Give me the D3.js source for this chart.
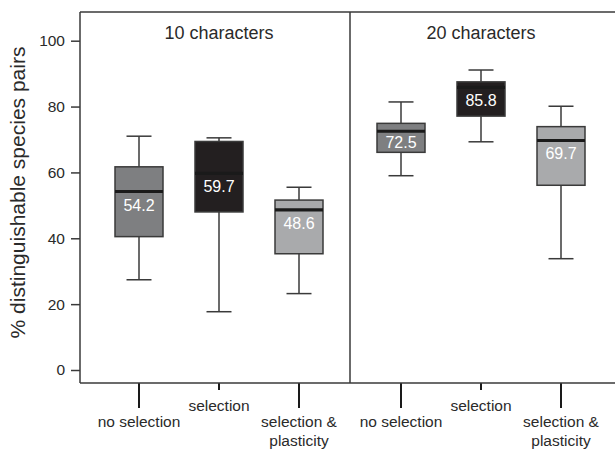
<!DOCTYPE html>
<html>
<head>
<meta charset="utf-8">
<script src="https://cdn.jsdelivr.net/npm/d3@7"></script>
<style>
  html, body { margin: 0; padding: 0; background: #fff; }
  svg { display: block; font-family: "Liberation Sans", Arial, sans-serif; }
</style>
</head>
<body>
<svg id="chart" width="615" height="450"></svg>
<script>
// ---- data ----
const panels = ["10 characters", "20 characters"];
const categories = ["no selection", "selection", "selection & plasticity"];
const categoryLines = [["no selection"], ["selection"], ["selection &", "plasticity"]];
// per panel, per category: [low whisker, Q1, median, Q3, high whisker]
const lowWhisker = [[27.4, 17.7, 23.2], [59.0, 69.3, 33.8]];
const q1Values   = [[40.5, 48.0, 35.3], [66.1, 77.1, 56.1]];
const medians    = [[54.2, 59.7, 48.6], [72.5, 85.8, 69.7]];
const q3Values   = [[61.7, 69.4, 51.6], [74.9, 87.5, 73.9]];
const highWhisker= [[71.0, 70.5, 55.5], [81.4, 91.1, 80.1]];
const yTicks = [0, 20, 40, 60, 80, 100];
const yTitle = "% distinguishable species pairs";
const fills = ["#7e7f81", "#231f20", "#a9aaac"];

// ---- layout ----
const svg = d3.select("#chart");
const frame = { left: 80, top: 12, right: 640, bottom: 383, divider: 350 };

const y = d3.scaleLinear().domain([0, 100]).range([370, 40.7]);
const xPanel = [
  d3.scalePoint().domain(categories).range([139, 299]),
  d3.scalePoint().domain(categories).range([401, 561])
];
const boxW = 48, capW = 25;
const stroke = "#3a3a3a";

// y axis
const yAxis = svg.append("g")
  .attr("transform", `translate(${frame.left},0)`)
  .call(d3.axisLeft(y).tickValues(yTicks).tickSize(9).tickPadding(6));
yAxis.select(".domain").remove();
yAxis.selectAll(".tick line").attr("stroke", stroke).attr("stroke-width", 1.5);
yAxis.selectAll(".tick text")
  .attr("fill", "#2a2a2a")
  .style("font-size", "15.5px")
  .style("font-family", "'Liberation Sans', Arial, sans-serif");

// y title
svg.append("text")
  .attr("transform", `translate(25,192.5) rotate(-90)`)
  .attr("text-anchor", "middle")
  .attr("fill", "#2a2a2a")
  .style("font-size", "21px")
  .text(yTitle);

// frame
const fg = svg.append("g").attr("stroke", stroke).attr("stroke-width", 1.5).attr("fill", "none");
fg.append("line").attr("x1", frame.left).attr("x2", frame.left).attr("y1", frame.top).attr("y2", frame.bottom);
fg.append("line").attr("x1", frame.left).attr("x2", frame.right).attr("y1", frame.top).attr("y2", frame.top);
fg.append("line").attr("x1", frame.divider).attr("x2", frame.divider).attr("y1", frame.top).attr("y2", frame.bottom);

panels.forEach((title, p) => {
  const x = xPanel[p];
  const g = svg.append("g");

  // panel title
  g.append("text")
    .attr("x", x(categories[1]))
    .attr("y", 39)
    .attr("text-anchor", "middle")
    .attr("fill", "#2a2a2a")
    .style("font-size", "18px")
    .text(title);

  categories.forEach((c, i) => {
    const cx = x(c);
    const lo = lowWhisker[p][i], q1 = q1Values[p][i], md = medians[p][i],
          q3 = q3Values[p][i], hi = highWhisker[p][i];
    // whiskers
    g.append("line").attr("x1", cx).attr("x2", cx).attr("y1", y(hi)).attr("y2", y(q3))
      .attr("stroke", stroke).attr("stroke-width", 1.5);
    g.append("line").attr("x1", cx).attr("x2", cx).attr("y1", y(q1)).attr("y2", y(lo))
      .attr("stroke", stroke).attr("stroke-width", 1.5);
    [hi, lo].forEach(v => {
      g.append("line").attr("x1", cx - capW / 2).attr("x2", cx + capW / 2)
        .attr("y1", y(v)).attr("y2", y(v))
        .attr("stroke", stroke).attr("stroke-width", 1.5);
    });
    // box
    g.append("rect")
      .attr("x", cx - boxW / 2).attr("width", boxW)
      .attr("y", y(q3)).attr("height", y(q1) - y(q3))
      .attr("fill", fills[i]).attr("stroke", stroke).attr("stroke-width", 1.5);
    // median
    g.append("line").attr("x1", cx - boxW / 2).attr("x2", cx + boxW / 2)
      .attr("y1", y(md)).attr("y2", y(md))
      .attr("stroke", "#1a1a1a").attr("stroke-width", 3.2);
    // value label
    const by = Math.min(y(md) + 19, y(q1) - 4);
    g.append("text")
      .attr("x", cx).attr("y", by)
      .attr("text-anchor", "middle")
      .attr("fill", "#ffffff")
      .style("font-size", "16px")
      .text(md.toFixed(1));

    // category tick
    const tickLen = i === 1 ? 7 : 25;
    g.append("line").attr("x1", cx).attr("x2", cx)
      .attr("y1", frame.bottom).attr("y2", frame.bottom + tickLen)
      .attr("stroke", "#1a1a1a").attr("stroke-width", 2);
    // category label
    const baseY = i === 1 ? 411 : 427;
    const t = g.append("text")
      .attr("text-anchor", "middle")
      .attr("fill", "#2a2a2a")
      .style("font-size", "15.5px");
    categoryLines[i].forEach((line, k) => {
      t.append("tspan").attr("x", cx).attr("y", baseY + k * 19).text(line);
    });
  });
});

// bottom axis line (drawn last, over ticks)
svg.append("line")
  .attr("x1", frame.left).attr("x2", frame.right)
  .attr("y1", frame.bottom).attr("y2", frame.bottom)
  .attr("stroke", stroke).attr("stroke-width", 1.5);
</script>
</body>
</html>
